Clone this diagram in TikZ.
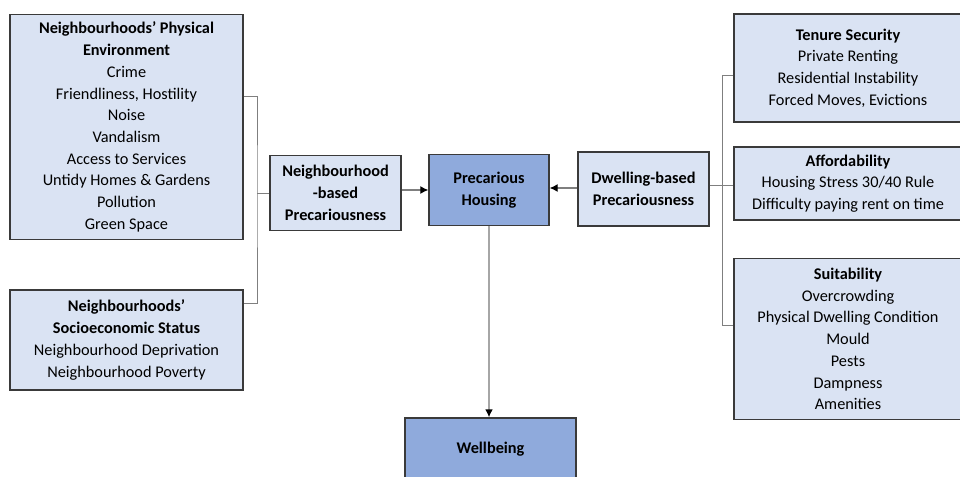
\documentclass[tikz,border=0pt]{standalone}
\usepackage{fontspec}
\setmainfont{Carlito}
\definecolor{lightbox}{HTML}{DAE3F3}
\definecolor{darkbox}{HTML}{8FAADC}
\definecolor{edgeline}{HTML}{3A3A3A}
\definecolor{connline}{HTML}{7F7F7F}
\tikzset{box/.style = {shape=rectangle,draw=edgeline,line width=1.4pt,fill=lightbox,
  align=center,inner sep=0pt,font=\fontsize{16.3}{21.7}\selectfont}}
\tikzset{keybox/.style = {box,fill=darkbox}}
\tikzset{conn/.style = {draw=connline,line width=1pt}}
\tikzset{arr/.style = {draw=connline,line width=1.2pt,-{Latex[length=8pt,width=8pt,black]}}}
\usetikzlibrary{arrows.meta}

\begin{document}
\begin{tikzpicture}[x=1pt,y=1pt]
          \useasboundingbox (0,0) rectangle (960,-476);
          \node[box,minimum width=233,minimum height=225] (phys) at (126.5,-127)
            {\textbf{Neighbourhoods’ Physical}\\ \textbf{Environment}\\ Crime\\ Friendliness, Hostility\\ Noise\\ Vandalism\\ Access to Services\\ Untidy Homes \& Gardens\\ Pollution\\ Green Space};
          \node[box,minimum width=233,minimum height=100] (socio) at (126.5,-340)
            {\textbf{Neighbourhoods’}\\ \textbf{Socioeconomic Status}\\ Neighbourhood Deprivation\\ Neighbourhood Poverty};
          \node[box,minimum width=131,minimum height=75] (nbhd) at (335.5,-193)
            {\textbf{Neighbourhood}\\ \textbf{-based}\\ \textbf{Precariousness}};
          \node[keybox,minimum width=120,minimum height=71] (prec) at (489,-190)
            {\textbf{Precarious}\\ \textbf{Housing}};
          \node[box,minimum width=131,minimum height=74] (dwell) at (643.5,-189)
            {\textbf{Dwelling-based}\\ \textbf{Precariousness}};
          \node[box,minimum width=228,minimum height=108] (tenure) at (848,-68)
            {\textbf{Tenure Security}\\ Private Renting\\ Residential Instability\\ Forced Moves, Evictions};
          \node[box,minimum width=228,minimum height=73] (afford) at (848,-183.5)
            {\textbf{Affordability}\\ Housing Stress 30/40 Rule\\ Difficulty paying rent on time};
          \node[box,minimum width=228,minimum height=161] (suit) at (848,-339)
            {\textbf{Suitability}\\ Overcrowding\\ Physical Dwelling Condition\\ Mould\\ Pests\\ Dampness\\ Amenities};
          \node[keybox,minimum width=171,minimum height=62] (well) at (490.5,-449)
            {\textbf{Wellbeing}};

          \coordinate (nleft) at (257,-193);
          \coordinate (dright) at (722,-185);

          \draw[conn] (phys.east |- 0,-97) -| (nleft) |- (socio.east |- 0,-303);
          \draw[conn] (nleft) -- (nbhd.west |- nleft);
          \draw[conn] (tenure.west |- 0,-76) -| (dright) |- (suit.west |- 0,-325);
          \draw[conn] (dwell.east |- dright) -- (afford.west |- dright);

          \draw[arr] (nbhd.east |- prec.west) -- (prec.west);
          \draw[arr] (dwell.west |- 0,-188) -- (prec.east |- 0,-188);
          \draw[arr,draw=gray!70,line width=1.6pt] (prec.south) -- (prec.south |- well.north);
        \end{tikzpicture}
\end{document}
